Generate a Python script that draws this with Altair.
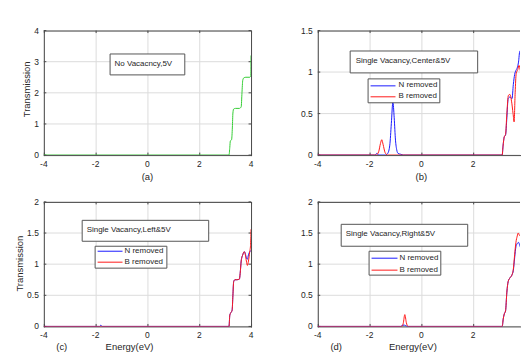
import altair as alt
import pandas as pd

FONT = "Liberation Sans"
AX = "#4a4a4a"
TXT = "#262626"
BLUE = "#1a1aff"
RED = "#ff1a1a"
GREEN = "#33cc33"
GRID = "#dcdcdc"

# ---------------- data ----------------
# (a) No vacancy
a_x = [-4, 3.15, 3.18, 3.2, 3.25, 3.28, 3.3, 3.33, 3.4, 3.55, 3.62, 3.65, 3.68, 3.72, 3.8, 3.95, 3.99, 4.0]
a_y = [0, 0, 0.25, 0.45, 0.5, 0.9, 1.35, 1.48, 1.5, 1.5, 1.55, 2.0, 2.4, 2.48, 2.5, 2.5, 2.55, 3.2]

# (b) Center vacancy
b_n_x = [-4, -1.8, -1.72, -1.65, -1.4, -1.3, -1.22, -1.16, -1.1, -1.05, -1.0, -0.95, -0.9, -0.8, -0.7, -0.6,
         3.12, 3.15, 3.2, 3.25, 3.3, 3.35, 3.42, 3.5, 3.55, 3.6, 3.65, 3.7, 3.75, 3.8, 3.85, 3.9, 4.0]
b_n_y = [0, 0, 0.02, 0, 0, 0.02, 0.12, 0.38, 0.64, 0.45, 0.18, 0.06, 0.02, 0.01, 0, 0,
         0, 0.1, 0.22, 0.24, 0.45, 0.68, 0.7, 0.68, 0.85, 0.97, 1.02, 1.05, 1.12, 1.25, 1.22, 1.18, 1.25]
b_b_x = [-4, -1.75, -1.65, -1.58, -1.53, -1.48, -1.4, -1.3,
         3.12, 3.15, 3.2, 3.25, 3.3, 3.36, 3.42, 3.48, 3.54, 3.58, 3.62, 3.66, 3.72, 3.77, 3.82, 3.88, 4.0]
b_b_y = [0, 0, 0.04, 0.14, 0.185, 0.13, 0.03, 0,
         0, 0.1, 0.22, 0.25, 0.5, 0.72, 0.73, 0.65, 0.5, 0.4, 0.75, 0.98, 1.03, 1.08, 1.02, 0.98, 1.05]

# (c) Left vacancy
c_n_x = [-4, -1.85, -1.8, -1.75, 3.15, 3.18, 3.22, 3.27, 3.3, 3.33, 3.38, 3.45, 3.55, 3.58, 3.62, 3.68,
         3.74, 3.78, 3.82, 3.86, 3.9, 3.95, 4.0]
c_n_y = [0, 0, 0.02, 0, 0, 0.18, 0.22, 0.26, 0.5, 0.72, 0.75, 0.75, 0.76, 0.85, 1.05, 1.15,
         1.2, 1.17, 1.1, 1.08, 1.15, 1.2, 1.22]
c_b_x = [-4, 3.15, 3.18, 3.22, 3.27, 3.3, 3.33, 3.38, 3.45, 3.55, 3.58, 3.62, 3.68, 3.74, 3.78, 3.82,
         3.86, 3.9, 3.95, 3.98, 4.0]
c_b_y = [0, 0, 0.18, 0.22, 0.26, 0.5, 0.72, 0.75, 0.75, 0.76, 0.85, 1.05, 1.15, 1.2, 1.15, 1.05,
         0.98, 1.05, 1.2, 1.3, 1.56]

# (d) Right vacancy
d_n_x = [-4, -0.8, -0.72, -0.65, -0.55, 3.12, 3.16, 3.2, 3.25, 3.3, 3.35, 3.42, 3.5, 3.55, 3.6, 3.65,
         3.7, 3.75, 3.8, 3.85, 3.9, 4.0]
d_n_y = [0, 0, 0.02, 0.02, 0, 0, 0.12, 0.2, 0.25, 0.55, 0.72, 0.78, 0.83, 0.9, 1.1, 1.28,
         1.33, 1.35, 1.3, 1.25, 1.3, 1.32]
d_b_x = [-4, -0.75, -0.7, -0.64, -0.58, -0.52, 3.12, 3.16, 3.2, 3.25, 3.3, 3.35, 3.42, 3.5, 3.55, 3.6,
         3.65, 3.7, 3.74, 3.78, 3.85, 3.9, 4.0]
d_b_y = [0, 0, 0.05, 0.19, 0.06, 0, 0, 0.12, 0.2, 0.25, 0.55, 0.72, 0.78, 0.83, 0.92, 1.15,
         1.35, 1.45, 1.5, 1.47, 1.44, 1.45, 1.45]

x_ticks = [-4, -2, 0, 2, 4]
x_tick_labels = ["-4", "-2", "0", "2", "4"]
a_yticks = [0, 1, 2, 3, 4]
a_ytick_labels = ["0", "1", "2", "3", "4"]
b_yticks = [0, 0.5, 1, 1.5]
b_ytick_labels = ["0", "0.5", "1", "1.5"]
cd_yticks = [0, 0.5, 1, 1.5, 2]
cd_ytick_labels = ["0", "0.5", "1", "1.5", "2"]

# ---------------- layout ----------------
WL, WR, H = 208, 203, 125
XMAX_R = -4 + WR / 26.0
TICK = 2.5
LBL = 8.5


def one():
    return pd.DataFrame({"k": [0]})


def rule(x, x2=None, y=None, y2=None, color=AX, width=1):
    enc = {"x": alt.value(x), "y": alt.value(y)}
    if x2 is not None:
        enc["x2"] = alt.value(x2)
    if y2 is not None:
        enc["y2"] = alt.value(y2)
    return alt.Chart(one()).mark_rule(color=color, strokeWidth=width).encode(**enc)


def text(s, x, y, size=8, align="left", angle=0):
    kw = dict(align=align, baseline="middle", font=FONT, fontSize=size, color=TXT)
    if angle:
        kw["angle"] = angle
    return alt.Chart(one()).mark_text(**kw).encode(
        x=alt.value(x), y=alt.value(y), text=alt.value(s))


def box(x0, x1, y0, y1):
    return alt.Chart(one()).mark_rect(fill="white", stroke="#555555", strokeWidth=1).encode(
        x=alt.value(x0 + 0.5), x2=alt.value(x1 + 0.5), y=alt.value(y0 + 0.5), y2=alt.value(y1 + 0.5))


def spacer(x0, x1, y0, y1):
    return alt.Chart(one()).mark_rect(opacity=0).encode(
        x=alt.value(x0), x2=alt.value(x1), y=alt.value(y0), y2=alt.value(y1))


def panel(series, xdom, ydom, yticks, ylabels, W, right_border, extras):
    keep = [i for i, v in enumerate(x_ticks) if xdom[0] <= v <= xdom[1]]
    xdf = pd.DataFrame({"tx": [x_ticks[i] for i in keep], "lab": [x_tick_labels[i] for i in keep]})
    ydf = pd.DataFrame({"ty": yticks, "lab": ylabels})
    xs = alt.Scale(domain=xdom, nice=False, zero=False)
    ys = alt.Scale(domain=ydom, nice=False, zero=False)
    X = lambda f: alt.X(f, scale=xs, axis=None)
    Y = lambda f: alt.Y(f, scale=ys, axis=None)

    layers = []
    # grid: explicit pixel ends so the rules span the whole panel
    layers.append(alt.Chart(xdf).mark_rule(color=GRID, strokeWidth=1, xOffset=0.5).encode(
        x=X("tx:Q"), y=alt.value(0), y2=alt.value(H)))
    layers.append(alt.Chart(ydf).mark_rule(color=GRID, strokeWidth=1).encode(
        y=Y("ty:Q"), x=alt.value(0), x2=alt.value(W)))
    # frame
    layers.append(rule(0, x2=W, y=0.5))
    layers.append(rule(0, x2=W + 1, y=H + 0.5))
    layers.append(rule(0.5, y=0, y2=H + 1))
    if right_border:
        layers.append(rule(W + 0.5, y=0, y2=H + 1))
    # inward ticks
    layers.append(alt.Chart(xdf).mark_rule(color=AX, strokeWidth=1, xOffset=0.5).encode(
        x=X("tx:Q"), y=alt.value(H), y2=alt.value(H - TICK)))
    layers.append(alt.Chart(xdf).mark_rule(color=AX, strokeWidth=1, xOffset=0.5).encode(
        x=X("tx:Q"), y=alt.value(0), y2=alt.value(TICK)))
    layers.append(alt.Chart(ydf).mark_rule(color=AX, strokeWidth=1).encode(
        y=Y("ty:Q"), x=alt.value(0), x2=alt.value(TICK)))
    if right_border:
        layers.append(alt.Chart(ydf).mark_rule(color=AX, strokeWidth=1).encode(
            y=Y("ty:Q"), x=alt.value(W), x2=alt.value(W - TICK)))
    # tick labels
    layers.append(alt.Chart(xdf).mark_text(font=FONT, fontSize=LBL, color=TXT, align="center", baseline="top").encode(
        x=X("tx:Q"), y=alt.value(H + 4.5), text="lab:N"))
    layers.append(alt.Chart(ydf).mark_text(font=FONT, fontSize=LBL, color=TXT, align="right", baseline="middle").encode(
        y=Y("ty:Q"), x=alt.value(-5), text="lab:N"))
    # data lines
    for xv, yv, col in series:
        df = pd.DataFrame({"x": xv, "y": yv})
        layers.append(
            alt.Chart(df).mark_line(color=col, strokeWidth=1, interpolate="monotone", clip=True).encode(
                x=X("x:Q"), y=Y("y:Q"))
        )
    layers.extend(extras)
    return alt.layer(*layers).properties(width=W, height=H)


def legend(x0, x1, y0, y1, lx0, lx1, yn, yb, tx):
    return [
        box(x0, x1, y0, y1),
        rule(lx0, x2=lx1, y=yn + 0.5, color=BLUE),
        rule(lx0, x2=lx1, y=yb + 0.5, color=RED),
        text("N removed", tx, yn),
        text("B removed", tx, yb),
    ]


pa = panel([(a_x, a_y, GREEN)], [-4, 4], [0, 4], a_yticks, a_ytick_labels, WL, True, [
    box(66, 141, 23, 44),
    text("No Vacacncy,5V", 71, 33.5),
    text("Transmission", -16.5, 59, size=9.5, align="center", angle=270),
    text("(a)", WL / 2, H + 22, size=9.5, align="center"),
    spacer(-43, 0, -29, 0),
])

pb = panel([(b_n_x, b_n_y, BLUE), (b_b_x, b_b_y, RED)], [-4, XMAX_R], [0, 1.5], b_yticks, b_ytick_labels,
           WR, False, [
    box(32, 160, 20, 42),
    text("Single Vacancy,Center&5V", 38, 30.5),
    *legend(50, 122, 48, 72, 53, 78, 55, 66, 81),
    text("(b)", 104, H + 22, size=9.5, align="center"),
])

pc = panel([(c_n_x, c_n_y, BLUE), (c_b_x, c_b_y, RED)], [-4, 4], [0, 2], cd_yticks, cd_ytick_labels,
           WL, True, [
    box(38, 165, 18, 39),
    text("Single Vacancy,Left&5V", 43, 28),
    *legend(51, 123, 44, 66, 54, 79, 49, 60, 81),
    text("Transmission", -24, 62, size=9.5, align="center", angle=270),
    text("(c)", 18, H + 21, size=9.5, align="center"),
    text("Energy(eV)", 86, H + 21, size=9.5, align="center"),
    spacer(-43, 0, H, H + 28),
])

pd_ = panel([(d_n_x, d_n_y, BLUE), (d_b_x, d_b_y, RED)], [-4, XMAX_R], [0, 2], cd_yticks, cd_ytick_labels,
            WR, False, [
    box(23, 150, 22, 44),
    text("Single Vacancy,Right&5V", 28, 32),
    *legend(51, 123, 49, 73, 54, 80, 56, 68, 82),
    text("(d)", 18.5, H + 21, size=9.5, align="center"),
    text("Energy(eV)", 95.5, H + 21, size=9.5, align="center"),
])

chart = alt.concat(pa, pb, pc, pd_, columns=2, spacing={"row": 47, "column": 67}, bounds="flush").properties(
    padding=0, background="white"
).configure_view(stroke="transparent")

chart.save("out.html", embed_options={"renderer": "svg", "actions": False})
